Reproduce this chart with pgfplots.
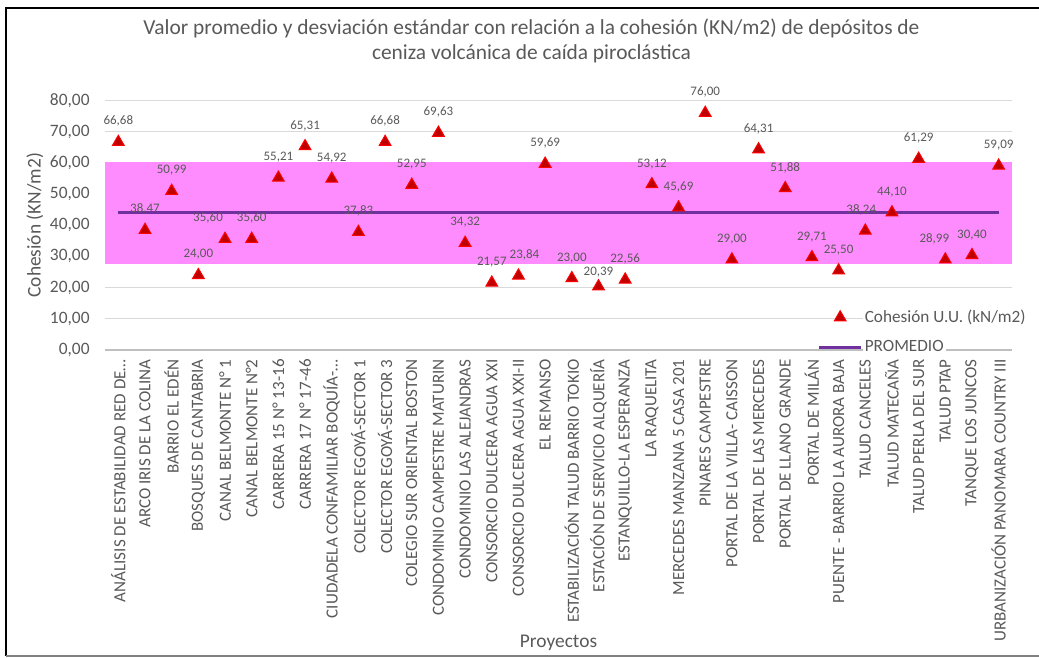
\documentclass[border=0pt]{standalone}
\usepackage{fontspec}
\setmainfont{Carlito}
\usepackage{pgfplots}
\pgfplotsset{compat=1.18}

\definecolor{txt}{HTML}{595959}
\definecolor{gridc}{HTML}{D9D9D9}
\definecolor{axisc}{HTML}{BFBFBF}
\definecolor{banda}{RGB}{255,140,255}
\definecolor{prom}{HTML}{7030A0}
\definecolor{mk}{HTML}{C00000}

\begin{document}
\begin{tikzpicture}
\begin{axis}[
  name=ax,
  scale only axis,
  width=453.5pt, height=124.75pt,
  xmin=-0.5, xmax=33.5,
  ymin=0, ymax=80,
  ytick={0,10,...,80},
  xtick={0,...,33},
  xticklabels={ANÁLISIS DE ESTABILIDAD RED DE…,ARCO IRIS DE LA COLINA,BARRIO EL EDÉN,BOSQUES DE CANTABRIA,CANAL BELMONTE N° 1,CANAL BELMONTE N°2,CARRERA 15 N° 13-16,CARRERA 17 N° 17-46,CIUDADELA CONFAMILIAR BOQUÍA-…,COLECTOR EGOYÁ-SECTOR 1,COLECTOR EGOYÁ-SECTOR 3,COLEGIO SUR ORIENTAL BOSTON,CONDOMINIO CAMPESTRE MATURIN,CONDOMINIO LAS ALEJANDRAS,CONSORCIO DULCERA AGUA XXI,CONSORCIO DULCERA AGUA XXI-II,EL REMANSO,ESTABILIZACIÓN TALUD BARRIO TOKIO,ESTACIÓN DE SERVICIO ALQUERÍA,ESTANQUILLO-LA ESPERANZA,LA RAQUELITA,MERCEDES MANZANA 5 CASA 201,PINARES CAMPESTRE,PORTAL DE LA VILLA- CAISSON,PORTAL DE LAS MERCEDES,PORTAL DE LLANO GRANDE,PORTAL DE MILÁN,PUENTE - BARRIO LA AURORA BAJA,TALUD CANCELES,TALUD MATECAÑA,TALUD PERLA DEL SUR,TALUD PTAP,TANQUE LOS JUNCOS,URBANIZACIÓN PANOMARA COUNTRY III},
  ymajorgrids,
  grid style={gridc, line width=0.6pt},
  axis x line*=bottom,
  axis y line*=left,
  x axis line style={axisc, line width=0.7pt, -},
  y axis line style={draw=none, -},
  major tick length=0pt,
  tick label style={text=txt},
  xticklabel style={rotate=90, anchor=east, inner xsep=4.5pt, inner ysep=0pt, font=\fontsize{8.5}{10}\selectfont},
  yticklabel style={anchor=east, inner xsep=7.5pt, inner ysep=0pt, font=\fontsize{8.7}{10}\selectfont},
  /pgf/number format/use comma,
  /pgf/number format/fixed,
  /pgf/number format/fixed zerofill,
  /pgf/number format/precision=2,
  /pgf/number format/assume math mode=true,
  title={Valor promedio y desviación estándar con relación a la cohesión (KN/m2) de depósitos de\\ceniza volcánica de caída piroclástica},
  title style={at={(axis description cs:0.5,1)}, anchor=center, yshift=24pt, xshift=-13.5pt, align=center, text=txt, font=\fontsize{10.7}{12.5}\selectfont},
  ylabel={Cohesión (KN/m2)},
  ylabel style={at={(axis description cs:-0.0772,0.5)}, anchor=center, text=txt, font=\fontsize{9.7}{11}\selectfont},
  xlabel={Proyectos},
  xlabel style={at={(axis description cs:0.5,0)}, anchor=center, yshift=-146.5pt, text=txt, font=\fontsize{9.7}{11}\selectfont},
  reverse legend,
  legend style={at={(axis description cs:0.783,0.175)}, anchor=north west, draw=none, fill=none,
    font=\fontsize{8.6}{10}\selectfont, text=txt, row sep=6.5pt, inner sep=1pt,
    nodes={inner xsep=1pt, inner ysep=0.5pt, fill=white},
    row 2/.style={nodes={fill=none}}},
  legend cell align=left,
]
% banda: promedio +/- desviación estándar
\addplot[fill=banda, draw=none, forget plot] coordinates {(-0.5,27.72) (33.5,27.72) (33.5,60.32) (-0.5,60.32)};
% promedio
\addplot[prom, line width=1.6pt,
  legend image code/.code={\draw[prom, line width=1.6pt] (0pt,0pt) -- (21pt,0pt);}]
  coordinates {(0,44.02) (33,44.02)};
\addlegendentry{PROMEDIO}
% Cohesión U.U. (kN/m2) por proyecto; dx, dy: desplazamiento de la etiqueta (pt)
\addplot[only marks, mark=triangle*, mark size=3.4pt,
  mark options={fill=mk, draw=red, line width=0.5pt},
  visualization depends on={value \thisrow{dx} \as \ldx},
  visualization depends on={value \thisrow{dy} \as \ldy},
  nodes near coords,
  every node near coord/.append style={font=\fontsize{6.5}{7}\selectfont, text=txt, anchor=south, inner sep=1pt, fill=none, xshift=\ldx pt, yshift=\ldy pt},
  legend image code/.code={\draw plot[only marks, mark=triangle*, mark size=3.4pt, mark options={fill=mk, draw=red, line width=0.5pt}] coordinates {(10.5pt,0pt)};}]
  table[x=x, y=y] {
x  y      dx    dy
0  66.68  0     6.5
1  38.47  0     6.5
2  50.99  0     6.5
3  24.00  0     6.5
4  35.60  -8.5  6.5
5  35.60  0     6.5
6  55.21  0     6.5
7  65.31  0     6.5
8  54.92  0     6.5
9  37.83  0     6.5
10 66.68  0     6.5
11 52.95  0     6.5
12 69.63  0     6.5
13 34.32  0     6.5
14 21.57  0     6.5
15 23.84  3     6.5
16 59.69  0     6.5
17 23.00  0     6.5
18 20.39  0     3.5
19 22.56  0     6.5
20 53.12  0     6.5
21 45.69  0     6.5
22 76.00  0     6.5
23 29.00  0     6.5
24 64.31  0     6.5
25 51.88  0     6.5
26 29.71  0     6.5
27 25.50  0     6.5
28 38.24  -2    6.5
29 44.10  0     6.5
30 61.29  0     6.5
31 28.99  -5.5  6.5
32 30.40  0     6.5
33 59.09  0     6.5
};
\addlegendentry{Cohesión U.U. (kN/m2)}
\end{axis}
\draw[black, line width=1pt] (470pt,171pt) -- (-49.5pt,171pt) -- (-49.5pt,-153pt);
\draw[gray, line width=0.8pt] (-49.5pt,-153pt) -- (470pt,-153pt);
\pgfresetboundingbox
\path[use as bounding box] (-52.5pt,-154pt) rectangle (467pt,175pt);
\end{tikzpicture}
\end{document}
